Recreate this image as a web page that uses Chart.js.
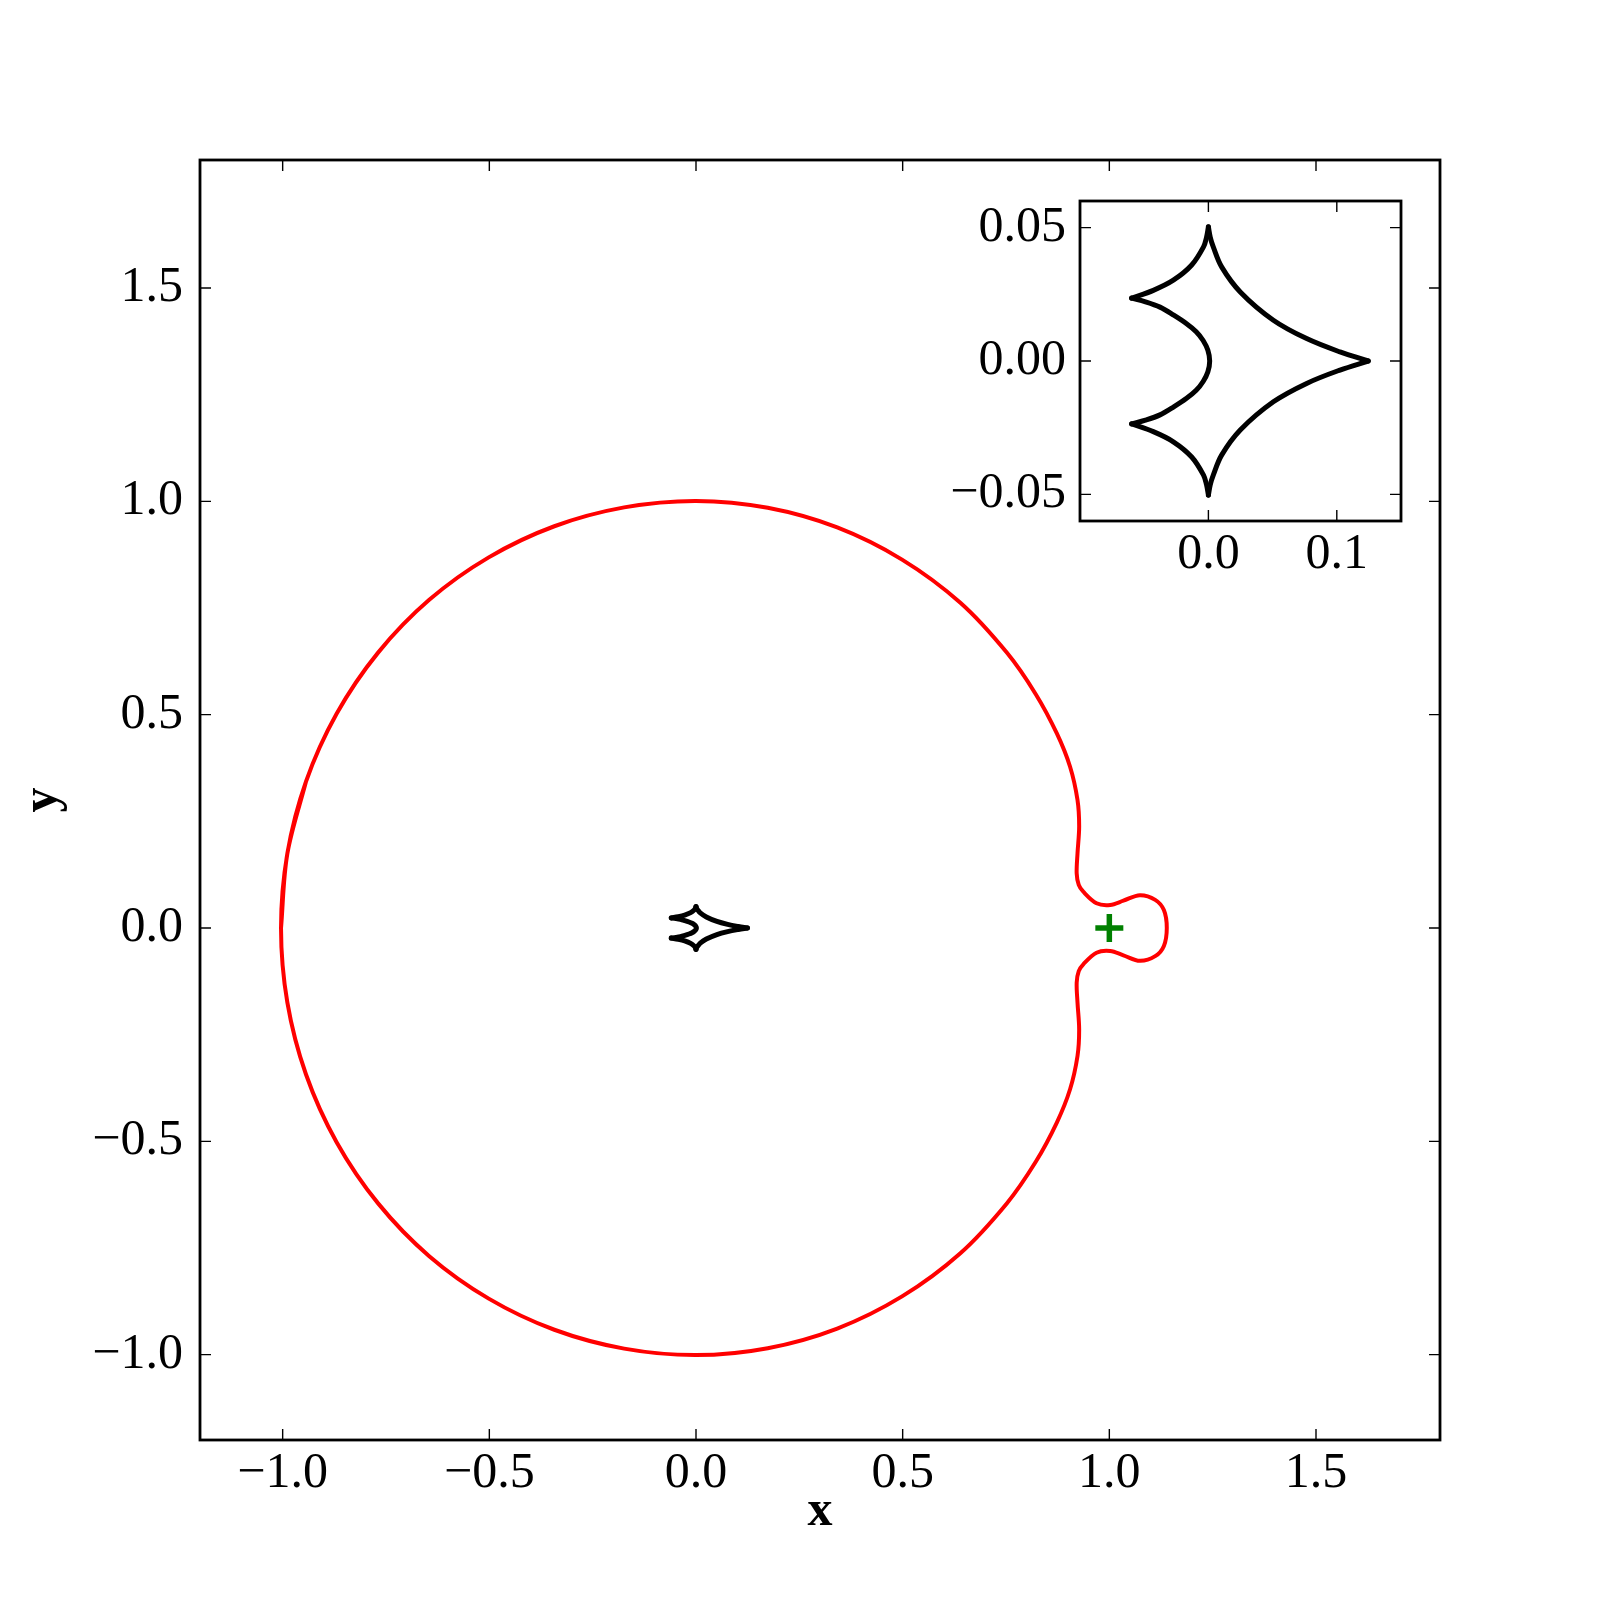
<html>
<head>
<meta charset="UTF-8"/>
<style>
html, body {
 margin: 0px;
 padding: 0px;
 overflow: hidden;
 background-color: #ffffff;
}
#mainChart { position: absolute; left: 0px; top: 0px; width: 1600px; height: 1600px; }
#insetChart { position: absolute; left: 900px; top: 180px; width: 520px; height: 420px; }
</style>
<script src="https://cdn.jsdelivr.net/npm/chart.js@4.4.0/dist/chart.umd.min.js"></script>
<script type="text/javascript">
// tick values
var xTicks = [-1.0, -0.5, 0.0, 0.5, 1.0, 1.5];
var yTicks = [-1.0, -0.5, 0.0, 0.5, 1.0, 1.5];
var insetXTicks = [0.0, 0.1];
var insetYTicks = [-0.05, 0.0, 0.05];

// critical curve (red), upper half from the left edge to the right tip
var criticalUpper = [
 [-1.004, 0.000], [-0.9887, 0.1743], [-0.9435, 0.3434], [-0.8695, 0.5020],
 [-0.7691, 0.6454], [-0.6454, 0.7691], [-0.5015, 0.8686], [-0.3427, 0.9416],
 [-0.1738, 0.9858], [0.0, 1.001], [0.1736, 0.9848], [0.3417, 0.9388],
 [0.4985, 0.8634], [0.6396, 0.7622], [0.7524, 0.6449], [0.822, 0.548],
 [0.873, 0.456], [0.905, 0.378], [0.923, 0.300], [0.927, 0.238],
 [0.923, 0.175], [0.921, 0.128], [0.926, 0.101], [0.937, 0.085],
 [0.969, 0.058], [1.002, 0.054], [1.034, 0.064], [1.074, 0.077],
 [1.111, 0.066], [1.132, 0.042], [1.139, 0.000]
];
// lower half, from the right tip back towards the left edge
var criticalLower = [
 [1.132, -0.042], [1.111, -0.066], [1.074, -0.077], [1.034, -0.064],
 [1.002, -0.054], [0.969, -0.058], [0.937, -0.085], [0.926, -0.101],
 [0.921, -0.128], [0.923, -0.175], [0.927, -0.238], [0.923, -0.300],
 [0.905, -0.378], [0.873, -0.456], [0.822, -0.548], [0.7524, -0.6449],
 [0.6396, -0.7622], [0.4985, -0.8634], [0.3417, -0.9388], [0.1736, -0.9848],
 [0.0, -1.001], [-0.1738, -0.9858], [-0.3427, -0.9416], [-0.5015, -0.8686],
 [-0.6454, -0.7691], [-0.7691, -0.6454], [-0.8695, -0.5020], [-0.9435, -0.3434],
 [-0.9887, -0.1743]
];

// caustic (black), one arc between each pair of cusps
var causticTopRight = [
 [0.1245, 0.0], [0.1025, 0.0034], [0.0765, 0.0084], [0.0506, 0.0153],
 [0.0250, 0.0258], [0.0103, 0.0353], [0.0038, 0.0428], [0.0015, 0.0463],
 [0.0, 0.0503]
];
var causticTopLeft = [
 [0.0, 0.0503], [-0.0015, 0.0463], [-0.0038, 0.0428], [-0.0130, 0.0360],
 [-0.0273, 0.0303], [-0.0429, 0.0265], [-0.0598, 0.0236]
];
var causticInner = [
 [-0.0598, 0.0236], [-0.0490, 0.0222], [-0.0377, 0.0202], [-0.0270, 0.0172],
 [-0.0170, 0.0140], [-0.0095, 0.0110], [-0.0041, 0.0077], [-0.0004, 0.0040],
 [0.0010, 0.0], [-0.0004, -0.0040], [-0.0041, -0.0077], [-0.0095, -0.0110],
 [-0.0170, -0.0140], [-0.0270, -0.0172], [-0.0377, -0.0202], [-0.0490, -0.0222],
 [-0.0598, -0.0236]
];
var causticBottomLeft = [
 [-0.0598, -0.0236], [-0.0429, -0.0265], [-0.0273, -0.0303], [-0.0130, -0.0360],
 [-0.0038, -0.0428], [-0.0015, -0.0463], [0.0, -0.0503]
];
var causticBottomRight = [
 [0.0, -0.0503], [0.0015, -0.0463], [0.0038, -0.0428], [0.0103, -0.0353],
 [0.0250, -0.0258], [0.0506, -0.0153], [0.0765, -0.0084], [0.1025, -0.0034],
 [0.1245, 0.0]
];

// planet position (green cross)
var planet = [[1.0, 0.0]];

var FONT = 'Liberation Serif';

function pts(arr) {
    return arr.map(function(p) { return {x: p[0], y: p[1]}; });
}

function fmt(v, d) {
    return (v < 0 ? '\u2212' : '') + Math.abs(v).toFixed(d);
}

// frame + inward ticks on all four sides
var frameAndTicks = {
    id: 'frameAndTicks',
    afterDatasetsDraw: function(chart, args, opts) {
        var ctx = chart.ctx;
        var a = chart.chartArea;
        var sx = chart.scales.x, sy = chart.scales.y;
        var L = opts.len;
        ctx.save();
        ctx.strokeStyle = '#000000';
        ctx.lineWidth = opts.tickWidth;
        ctx.beginPath();
        sx.ticks.forEach(function(t) {
            var px = sx.getPixelForValue(t.value);
            ctx.moveTo(px, a.bottom); ctx.lineTo(px, a.bottom - L);
            ctx.moveTo(px, a.top); ctx.lineTo(px, a.top + L);
        });
        sy.ticks.forEach(function(t) {
            var py = sy.getPixelForValue(t.value);
            ctx.moveTo(a.left, py); ctx.lineTo(a.left + L, py);
            ctx.moveTo(a.right, py); ctx.lineTo(a.right - L, py);
        });
        ctx.stroke();
        ctx.lineWidth = opts.frameWidth;
        ctx.strokeRect(a.left, a.top, a.right - a.left, a.bottom - a.top);
        ctx.restore();
    }
};

function lineSet(arr, color, width, tension) {
    return {
        data: pts(arr),
        showLine: true,
        borderColor: color,
        borderWidth: width,
        borderCapStyle: 'round',
        borderJoinStyle: 'round',
        pointRadius: 0,
        tension: tension,
        fill: false
    };
}

function causticSets(width) {
    return [causticTopRight, causticTopLeft, causticInner, causticBottomLeft, causticBottomRight]
        .map(function(arc) { return lineSet(arc, '#000000', width, 0.35); });
}

// fixed axis box sizes, no extra label overflow padding
function fixBox(size) {
    return function(s) {
        if (s.isHorizontal()) { s.height = size; } else { s.width = size; }
        s.paddingTop = 0; s.paddingBottom = 0; s.paddingLeft = 0; s.paddingRight = 0;
    };
}

function init() {
    Chart.defaults.font.family = FONT;
    Chart.defaults.color = '#000000';

    // closed loop: go round once, then redraw the first pieces so the join is smooth
    var closedLoop = criticalUpper.concat(criticalLower, criticalUpper.slice(0, 3));

    var mainSets = [lineSet(closedLoop, '#ff0000', 4.0, 0.33)].concat(causticSets(5.0));
    mainSets.push({
        data: pts(planet),
        showLine: false,
        pointStyle: 'cross',
        pointRadius: 14,
        borderColor: '#008000',
        borderWidth: 5.5
    });

    new Chart(document.getElementById('mainChart').getContext('2d'), {
        type: 'scatter',
        data: { datasets: mainSets },
        plugins: [frameAndTicks],
        options: {
            responsive: false,
            devicePixelRatio: 1,
            animation: false,
            layout: { padding: { top: 160, right: 160, left: 0, bottom: 0 } },
            plugins: {
                legend: { display: false },
                tooltip: { enabled: false },
                frameAndTicks: { len: 11, tickWidth: 1.4, frameWidth: 2.8 }
            },
            scales: {
                x: {
                    type: 'linear', position: 'bottom', min: -1.2, max: 1.8,
                    grid: { display: false, drawTicks: false },
                    border: { display: false },
                    afterBuildTicks: function(s) { s.ticks = xTicks.map(function(v) { return {value: v}; }); },
                    afterFit: fixBox(160),
                    ticks: {
                        padding: 4, autoSkip: false, maxRotation: 0,
                        font: { family: FONT, size: 50 },
                        callback: function(v) { return fmt(v, 1); }
                    },
                    title: {
                        display: true, text: 'x',
                        font: { family: FONT, size: 50, weight: 'bold', lineHeight: 1.2 },
                        padding: { top: 0, bottom: 58 }
                    }
                },
                y: {
                    type: 'linear', position: 'left', min: -1.2, max: 1.8,
                    grid: { display: false, drawTicks: false },
                    border: { display: false },
                    afterBuildTicks: function(s) { s.ticks = yTicks.map(function(v) { return {value: v}; }); },
                    afterFit: fixBox(200),
                    ticks: {
                        padding: 17, autoSkip: false,
                        font: { family: FONT, size: 50 },
                        callback: function(v) { return fmt(v, 1); }
                    },
                    title: {
                        display: true, text: 'y',
                        font: { family: FONT, size: 50, weight: 'bold', lineHeight: 1.2 },
                        padding: { top: 13, bottom: 0 }
                    }
                }
            }
        }
    });

    new Chart(document.getElementById('insetChart').getContext('2d'), {
        type: 'scatter',
        data: { datasets: causticSets(5.0) },
        plugins: [frameAndTicks],
        options: {
            responsive: false,
            devicePixelRatio: 1,
            animation: false,
            layout: { padding: { top: 21, right: 19, left: 0, bottom: 0 } },
            plugins: {
                legend: { display: false },
                tooltip: { enabled: false },
                frameAndTicks: { len: 11, tickWidth: 1.4, frameWidth: 2.8 }
            },
            scales: {
                x: {
                    type: 'linear', position: 'bottom', min: -0.1, max: 0.15,
                    grid: { display: false, drawTicks: false },
                    border: { display: false },
                    afterBuildTicks: function(s) { s.ticks = insetXTicks.map(function(v) { return {value: v}; }); },
                    afterFit: fixBox(79),
                    ticks: {
                        padding: 4, autoSkip: false, maxRotation: 0,
                        font: { family: FONT, size: 50 },
                        callback: function(v) { return fmt(v, 1); }
                    }
                },
                y: {
                    type: 'linear', position: 'left', min: -0.06, max: 0.06,
                    grid: { display: false, drawTicks: false },
                    border: { display: false },
                    afterBuildTicks: function(s) { s.ticks = insetYTicks.map(function(v) { return {value: v}; }); },
                    afterFit: fixBox(180),
                    ticks: {
                        padding: 14, autoSkip: false,
                        font: { family: FONT, size: 50 },
                        callback: function(v) { return fmt(v, 2); }
                    }
                }
            }
        }
    });
}
</script>
<title>Critical curve and caustic</title>
</head>

<body onload="JavaScript:init();">
<canvas id="mainChart" width="1600" height="1600"></canvas>
<canvas id="insetChart" width="520" height="420"></canvas>
</body>
</html>
